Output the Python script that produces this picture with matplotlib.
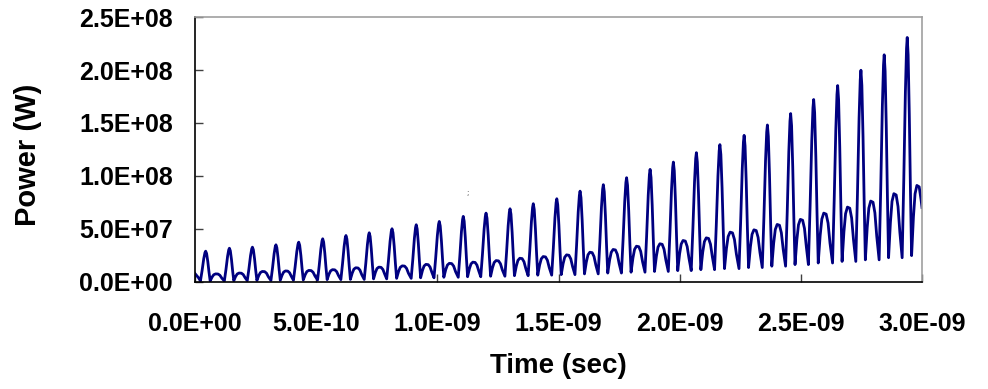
import matplotlib
matplotlib.use("Agg")
import matplotlib.pyplot as plt
from matplotlib.ticker import FuncFormatter

# ---- data (time in ns, power in units of 1e7 W) ----
peak_t = [0.044, 0.142, 0.237, 0.334, 0.428, 0.527, 0.623, 0.719, 0.813, 0.913,
          1.008, 1.107, 1.201, 1.300, 1.396, 1.493, 1.589, 1.685, 1.781, 1.878,
          1.974, 2.069, 2.166, 2.266, 2.362, 2.458, 2.553, 2.652, 2.748, 2.844,
          2.939]
peak_p = [2.87, 3.15, 3.25, 3.47, 3.72, 4.04, 4.35, 4.61, 4.99, 5.37,
          5.68, 6.16, 6.47, 6.88, 7.36, 7.83, 8.55, 9.16, 9.82, 10.61,
          11.30, 12.19, 12.95, 13.83, 14.81, 15.89, 17.22, 18.54, 19.99, 21.45,
          23.09]
hump_p = [0.72, 0.80, 0.95, 1.00, 1.05, 1.12, 1.30, 1.36, 1.48, 1.62,
          1.72, 1.83, 1.98, 2.20, 2.36, 2.52, 2.77, 3.03, 3.34, 3.57,
          3.88, 4.13, 4.67, 4.89, 5.40, 5.88, 6.47, 7.04, 7.61, 8.31,
          9.09]
trough_p = [0.05, 0.08, 0.10, 0.12, 0.15, 0.18, 0.20, 0.25, 0.30, 0.35,
            0.40, 0.45, 0.50, 0.55, 0.60, 0.65, 0.72, 0.80, 0.88, 0.95,
            1.03, 1.12, 1.22, 1.32, 1.45, 1.60, 1.75, 1.90, 2.05, 2.25,
            2.45]
start_t, start_p = 0.0, 0.75
end_t, end_p = 3.0, 7.0

x_ticks = [0.0, 0.5e-9, 1.0e-9, 1.5e-9, 2.0e-9, 2.5e-9, 3.0e-9]
y_ticks = [0.0, 5e7, 1e8, 1.5e8, 2e8, 2.5e8]

# ---- assemble the waveform polyline from the read key values ----
rise = [(-0.15, 0.35), (-0.08, 0.75), (-0.03, 0.95)]
fall = [(0.04, 0.92), (0.09, 0.65), (0.14, 0.3)]
hump = [(0.27, 0.55), (0.34, 0.88), (0.42, 1.0), (0.52, 0.98), (0.60, 0.8), (0.68, 0.4)]

ts, ps = [start_t], [start_p]
n = len(peak_t)
for k in range(n):
    T = (peak_t[k + 1] - peak_t[k]) if k + 1 < n else (peak_t[k] - peak_t[k - 1])
    tp, P, H = peak_t[k], peak_p[k], hump_p[k]
    m0 = trough_p[k - 1] if k > 0 else trough_p[0]
    m1 = trough_p[k]
    if k == 0:
        ts.append(tp - 0.30 * T); ps.append(0.35)
    ts.append(tp - 0.22 * T); ps.append(m0)
    for ph, f in rise:
        ts.append(tp + ph * T); ps.append(m0 + f * (P - m0))
    ts.append(tp); ps.append(P)
    for ph, f in fall:
        ts.append(tp + ph * T); ps.append(m1 + f * (P - m1))
    ts.append(tp + 0.19 * T); ps.append(m1)
    for ph, f in hump:
        ts.append(tp + ph * T); ps.append(m1 + f * (H - m1))
pts = [(t, p) for t, p in zip(ts, ps) if t < end_t]
pts.append((end_t, end_p))
time_s = [t * 1e-9 for t, _ in pts]
power_w = [p * 1e7 for _, p in pts]

# ---- figure ----
fig = plt.figure(figsize=(9.88, 3.89), dpi=100)
ax = fig.add_axes([195 / 988, 1 - 281.5 / 389, 727 / 988, (281.5 - 17.3) / 389])

ax.plot(time_s, power_w, color="#000080", linewidth=2.0, solid_joinstyle="round")
ax.text(1.125e-9, 0.84e8, ";", fontsize=5, color="#333333", ha="center", va="center")

ax.set_xlim(0, 3e-9)
ax.set_ylim(0, 2.5e8)
ax.set_xticks(x_ticks)
ax.set_yticks(y_ticks)

def sci(v, pos):
    if v == 0:
        return "0.0E+00"
    return "%.1E" % v

ax.xaxis.set_major_formatter(FuncFormatter(sci))
ax.yaxis.set_major_formatter(FuncFormatter(sci))

font = ["Liberation Sans", "Arial", "DejaVu Sans"]
for lab in ax.get_xticklabels() + ax.get_yticklabels():
    lab.set_fontfamily(font)
    lab.set_fontweight("bold")
    lab.set_fontsize(18)

ax.tick_params(axis="both", direction="in", length=6, width=1, color="#404040")
ax.tick_params(axis="x", pad=22)
ax.tick_params(axis="y", pad=16)

for side in ("top", "right"):
    ax.spines[side].set_color("#a0a0a0")
    ax.spines[side].set_linewidth(1.2)
for side in ("left", "bottom"):
    ax.spines[side].set_color("black")
    ax.spines[side].set_linewidth(1.2)

ax.set_xlabel("Time (sec)", family=font, fontweight="bold", fontsize=20)
ax.set_ylabel("Power (W)", family=font, fontweight="bold", fontsize=21)
ax.xaxis.set_label_coords(0.5, -0.27)
ax.yaxis.set_label_coords(-0.21, 0.48)

fig.savefig("out.png", dpi=100)
